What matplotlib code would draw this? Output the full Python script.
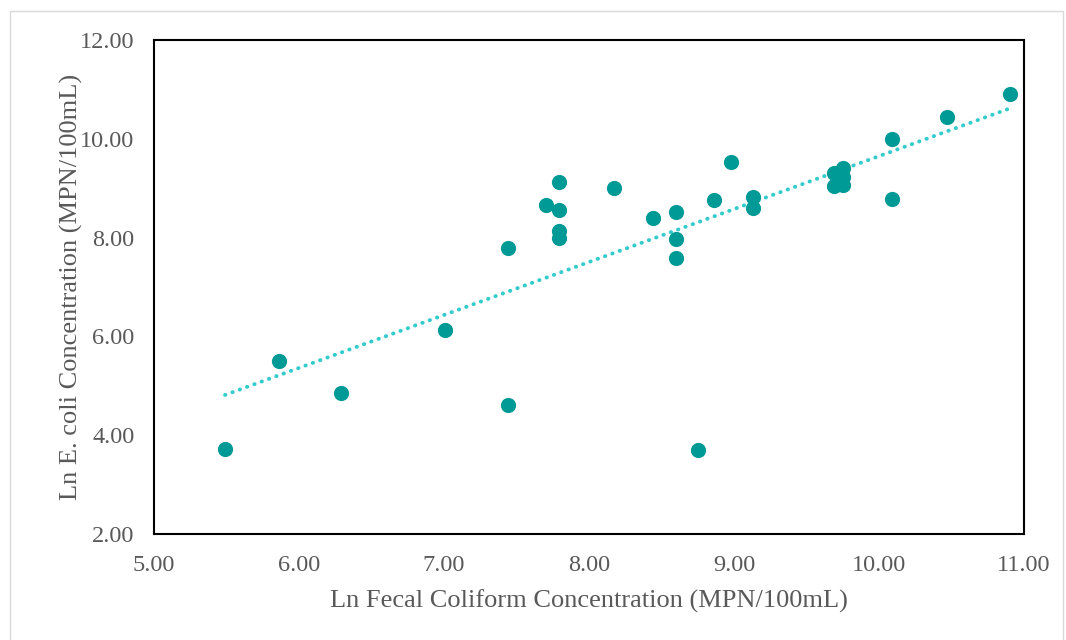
import numpy as np
import matplotlib
matplotlib.use("Agg")
import matplotlib.pyplot as plt
from matplotlib.patches import Rectangle

# Ln concentrations
ln_fecal = [5.49, 5.86, 6.29, 7.01, 7.44, 7.44, 7.70, 7.79, 7.79, 7.79,
            7.79, 8.17, 8.44, 8.60, 8.60, 8.60, 8.75, 8.86, 8.98, 9.13,
            9.13, 9.69, 9.75, 9.75, 9.69, 9.75, 10.09, 10.09, 10.47, 10.90]
ln_ecoli = [3.72, 5.50, 4.85, 6.12, 4.61, 7.78, 8.67, 9.13, 8.55, 8.13,
            8.00, 9.01, 8.40, 8.51, 7.97, 7.59, 3.71, 8.76, 9.54, 8.83,
            8.59, 9.30, 9.40, 9.22, 9.04, 9.06, 10.00, 8.78, 10.45, 10.91]

x_ticks = [5, 6, 7, 8, 9, 10, 11]
y_ticks = [2, 4, 6, 8, 10, 12]

plt.rcParams['font.family'] = ['Liberation Serif', 'DejaVu Serif']
grey = '#595959'

fig = plt.figure(figsize=(10.66, 6.40), dpi=100)
ax = fig.add_axes([154/1066, 1 - 534/640, 870/1066, 494/640])

# outer chart border
fig.patches.append(Rectangle((10/1066, -0.01), 1053/1066, 1 - 11/640 + 0.01,
                             transform=fig.transFigure, fill=False,
                             edgecolor='#d9d9d9', linewidth=1))

ax.scatter(ln_fecal, ln_ecoli, s=120, color='#009a96', zorder=3, linewidths=0)

# linear trendline
x = np.array(ln_fecal)
m, b = np.polyfit(x, ln_ecoli, 1)
xs = np.array([x.min(), x.max()])
ax.plot(xs, m * xs + b, linestyle=(0, (0.1, 1.9)), dash_capstyle='round',
        color='#33cccc', linewidth=2.8, zorder=2)

ax.set_xlim(5, 11)
ax.set_ylim(2, 12)
ax.set_xticks(x_ticks)
ax.set_yticks(y_ticks)
ax.set_xticklabels([f"{v:.2f}" for v in x_ticks])
ax.set_yticklabels([f"{v:.2f}" for v in y_ticks])
ax.tick_params(length=0, labelsize=17.5, colors=grey)
ax.tick_params(axis='x', pad=15)
ax.tick_params(axis='y', pad=14)

for s in ax.spines.values():
    s.set_color('black')
    s.set_linewidth(1.5)

ax.set_xlabel('Ln Fecal Coliform Concentration (MPN/100mL)', fontsize=19,
              color=grey, labelpad=10)
ax.set_ylabel('Ln E. coli Concentration (MPN/100mL)', fontsize=19,
              color=grey, labelpad=-2)

fig.savefig('out.png', dpi=100)
